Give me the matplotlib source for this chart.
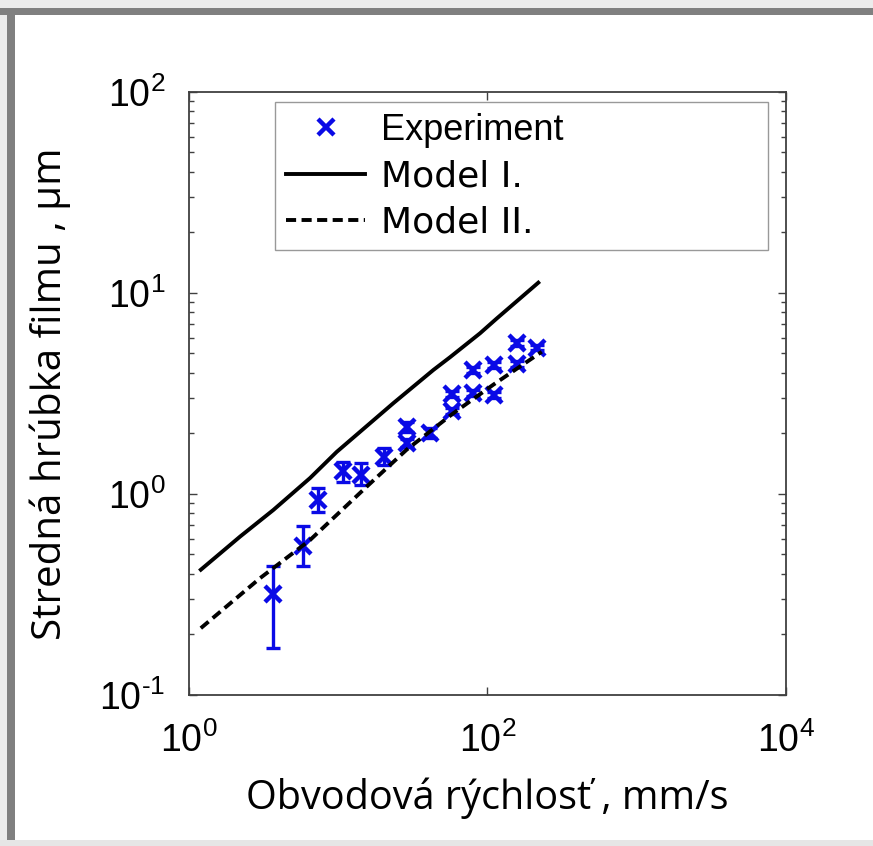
import numpy as np
import matplotlib
matplotlib.use('Agg')
import matplotlib.pyplot as plt
from matplotlib.patches import Rectangle
from matplotlib.ticker import FuncFormatter, NullLocator

plt.rcParams['font.family'] = ['Liberation Sans', 'DejaVu Sans']
plt.rcParams['mathtext.fontset'] = 'custom'
plt.rcParams['mathtext.rm'] = 'Liberation Sans'
plt.rcParams['mathtext.it'] = 'Liberation Sans'

# experiment (speed mm/s, mean film thickness um, error bars)
speed = [3.64, 5.83, 7.32, 10.8, 14.2, 20.3, 28.7, 28.7, 41.2, 57.8, 57.8,
         80.3, 80.3, 110.6, 110.6, 157, 157, 216]
thick = [0.318, 0.551, 0.933, 1.30, 1.24, 1.53, 2.15, 1.79, 2.01, 3.14, 2.59,
         4.14, 3.18, 4.38, 3.11, 5.64, 4.43, 5.33]
err_lo = [0.147, 0.112, 0.12, 0.15, 0.13, 0.14, 0.12, 0.08, 0.11, 0.12, 0.10,
          0.15, 0.10, 0.15, 0.10, 0.2, 0.15, 0.15]
err_hi = [0.121, 0.142, 0.137, 0.14, 0.19, 0.16, 0.12, 0.08, 0.11, 0.12, 0.10,
          0.15, 0.10, 0.15, 0.10, 0.2, 0.15, 0.15]

# model I
m1_x = [1.2, 2.2, 3.67, 6.47, 9.77, 23.4, 43.4, 56.1, 89.1, 115, 219]
m1_y = [0.42, 0.614, 0.832, 1.20, 1.62, 2.83, 4.14, 4.79, 6.30, 7.45, 11.25]

# model II
m2_x = [1.2, 2.99, 6.47, 15.5, 28.7, 59, 109, 231]
m2_y = [0.215, 0.381, 0.59, 1.087, 1.66, 2.52, 3.49, 5.1]

blue = '#0a0ae6'


def pow_label(v, pos):
    e = int(round(np.log10(v)))
    if e < 0:
        return r'$\mathregular{10^{\text{-}%d}}$' % (-e)
    return r'$\mathregular{10^{%d}}$' % e


fig = plt.figure(figsize=(8.73, 8.46), dpi=100)
ax = fig.add_axes([0.2165, 0.1785, 0.6838, 0.7128])

ax.errorbar(speed, thick, yerr=[err_lo, err_hi], fmt='none', ecolor=blue,
            elinewidth=2.4, capsize=5, capthick=2.4)
ax.plot(speed, thick, 'x', color=blue, markersize=12, markeredgewidth=3.2,
        label='Experiment')
ax.plot(m1_x, m1_y, '-', color='black', linewidth=2.8, label='Model I.')
l2, = ax.plot(m2_x, m2_y, '--', color='black', linewidth=2.8, label='Model II.')
l2.set_dashes([2.6, 1.4])

ax.set_xscale('log')
ax.set_yscale('log')
ax.set_xlim(1, 1e4)
ax.set_ylim(0.1, 100)
ax.set_xticks([1, 100, 10000])
ax.xaxis.set_minor_locator(NullLocator())
ax.xaxis.set_major_formatter(FuncFormatter(pow_label))
ax.yaxis.set_major_formatter(FuncFormatter(pow_label))

ax.tick_params(which='both', direction='in', top=True, right=True,
               color='#404040')
ax.tick_params(which='major', length=6, width=1)
ax.tick_params(which='minor', length=3.5, width=1)
ax.tick_params(axis='x', labelsize=27, pad=20)
ax.tick_params(axis='y', labelsize=27, pad=17)
for s in ax.spines.values():
    s.set_color('#404040')
    s.set_linewidth(1.3)

ax.set_xlabel('Obvodová rýchlosť , mm/s', family=['Open Sans', 'DejaVu Sans'],
              fontsize=28.5)
ax.set_ylabel('Stredná hrúbka filmu , µm', family=['Open Sans', 'DejaVu Sans'],
              fontsize=29)
ax.xaxis.set_label_coords(0.5, -0.137)
ax.yaxis.set_label_coords(-0.198, 0.5)

leg = ax.legend(loc='upper left', bbox_to_anchor=(0.144, 0.983, 0.826, 0.0),
                mode='expand', fontsize=26, frameon=True, fancybox=False,
                handlelength=2.2, handletextpad=0.45, labelspacing=0.32,
                borderpad=0.3, borderaxespad=0)
leg.get_frame().set_edgecolor('#808080')
leg.get_frame().set_linewidth(1.0)
leg.texts[0].set_family(['Liberation Sans'])
for t in leg.texts[1:]:
    t.set_family(['DejaVu Sans'])

# gray picture frame
fig.add_artist(Rectangle((0, 1 - 8 / 846), 1, 8 / 846, transform=fig.transFigure,
                         facecolor='#ececec', edgecolor='none'))
fig.add_artist(Rectangle((0, 0), 7 / 873, 1, transform=fig.transFigure,
                         facecolor='#ececec', edgecolor='none'))
fig.add_artist(Rectangle((0, 1 - 15 / 846), 1, 7 / 846, transform=fig.transFigure,
                         facecolor='#808080', edgecolor='none'))
fig.add_artist(Rectangle((7 / 873, 0), 8 / 873, 1 - 8 / 846, transform=fig.transFigure,
                         facecolor='#808080', edgecolor='none'))
fig.add_artist(Rectangle((0, 0), 1, 6 / 846, transform=fig.transFigure,
                         facecolor='#e6e6e6', edgecolor='none'))

fig.savefig('out.png', dpi=100)
